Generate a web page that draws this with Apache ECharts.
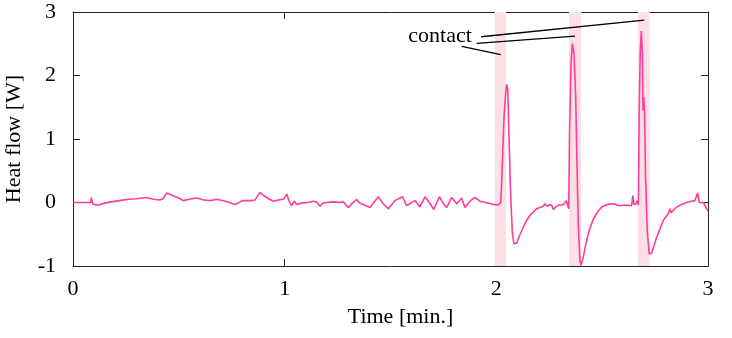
<!DOCTYPE html>
<html>
<head>
<meta charset="utf-8">
<script src="https://cdn.jsdelivr.net/npm/echarts@6/dist/echarts.min.js"></script>
<style>
  html, body { margin: 0; padding: 0; background: #fff; }
  #chart { width: 732px; height: 338px; }
</style>
</head>
<body>
<div id="chart"></div>
<script>
// time [min.] and heat flow [W]
const timeMin = [
  0, 0.085, 0.086, 0.095, 0.1, 0.12, 0.15, 0.18, 0.22, 0.26, 0.3, 0.348, 0.38, 0.41, 0.425, 0.443,
  0.47, 0.5, 0.521, 0.55, 0.584, 0.62, 0.65, 0.679, 0.72, 0.765, 0.79, 0.805, 0.84, 0.86, 0.883,
  0.9, 0.925, 0.946, 0.97, 0.994, 1.01, 1.02, 1.033, 1.045, 1.057, 1.08, 1.11, 1.135, 1.15, 1.167,
  1.18, 1.198, 1.23, 1.26, 1.277, 1.3, 1.32, 1.34, 1.355, 1.371, 1.403, 1.442, 1.466, 1.49, 1.521,
  1.557, 1.576, 1.6, 1.616, 1.639, 1.663, 1.687, 1.705, 1.731, 1.753, 1.765, 1.789, 1.813, 1.836,
  1.852, 1.875, 1.899, 1.923, 1.95, 1.986, 2.009, 2.021, 2.026, 2.03, 2.037, 2.045, 2.049, 2.054,
  2.06, 2.068, 2.076, 2.083, 2.096, 2.11, 2.127, 2.14, 2.159, 2.19, 2.222, 2.23, 2.24, 2.25, 2.261,
  2.269, 2.28, 2.293, 2.316, 2.33, 2.337, 2.342, 2.346, 2.353, 2.359, 2.367, 2.375, 2.381, 2.387,
  2.395, 2.4, 2.411, 2.42, 2.434, 2.458, 2.48, 2.498, 2.525, 2.553, 2.584, 2.61, 2.639, 2.645, 2.65,
  2.66, 2.666, 2.671, 2.675, 2.68, 2.685, 2.69, 2.693, 2.696, 2.7, 2.705, 2.713, 2.722, 2.734, 2.745,
  2.757, 2.775, 2.789, 2.812, 2.82, 2.826, 2.852, 2.875, 2.899, 2.92, 2.938, 2.951, 2.959, 2.978,
  2.994, 3.0
];
const heatFlow = [
  0, 0, 0.08, -0.03, -0.06, -0.04, -0.01, 0.01, 0.03, 0.05, 0.06, 0.08, 0.05, 0.04, 0.06, 0.15,
  0.11, 0.07, 0.03, 0.05, 0.07, 0.04, 0.03, 0.05, 0.02, -0.03, 0.01, 0.03, 0.03, 0.04, 0.16,
  0.11, 0.06, 0.02, 0.04, 0.05, 0.13, 0.03, -0.05, 0.02, -0.03, -0.01, 0, 0.02, 0.01, -0.06,
  -0.01, 0, 0.01, 0, 0.01, -0.08, -0.01, 0.05, -0.01, -0.03, -0.08, 0.09, -0.02, -0.1, 0.03,
  0.09, -0.05, 0, 0.03, -0.07, 0.09, -0.02, -0.11, 0.09, -0.03, -0.08, 0.08, -0.02, 0.07,
  -0.08, 0.02, 0.08, 0.02, 0, -0.03, -0.04, 0, 0.4, 0.77, 1.39, 1.75, 1.86, 1.79,
  1.03, 0.08, -0.49, -0.65, -0.64, -0.52, -0.39, -0.3, -0.2, -0.1, -0.06, -0.02, -0.06, -0.04, -0.035,
  -0.11, -0.07, -0.04, -0.04, 0.03, 0.06, -0.1, 1.13, 2.18, 2.5, 2.34, 1.66, 0.61, -0.33,
  -0.91, -0.99, -0.86, -0.7, -0.49, -0.26, -0.14, -0.07, -0.03, -0.02, -0.05, -0.04, -0.05, 0.11, -0.03,
  -0.02, 0.03, -0.04, 1.45, 2.39, 2.7, 2.34, 1.45, 1.66, 1.45, 0.4, -0.44, -0.81, -0.79, -0.68,
  -0.55, -0.4, -0.28, -0.18, -0.1, -0.16, -0.07, -0.03, 0, 0.02, 0.03, 0.15, 0, 0,
  -0.1, -0.13
];

// shaded contact intervals
const contactStart = [1.993, 2.343, 2.669];
const contactEnd = [2.046, 2.401, 2.724];

// "contact" label and its pointer lines (data units)
const labelText = 'contact';
const labelPos = [1.734, 2.626];
const pointerFrom = [[1.836, 2.458], [1.907, 2.505], [1.928, 2.61]];
const pointerTo = [[2.021, 2.327], [2.372, 2.621], [2.699, 2.873]];

const xTicks = { min: 0, max: 3, interval: 1 };
const yTicks = { min: -1, max: 3, interval: 1 };

const serif = '"Liberation Serif", "DejaVu Serif", serif';
const frame = '#222';

const chart = echarts.init(document.getElementById('chart'));

const lineData = timeMin.map((t, i) => [t, heatFlow[i]]);

const bands = contactStart.map((s, i) => [{ xAxis: s }, { xAxis: contactEnd[i] }]);

const pointers = pointerFrom.map((p, i) => [{ coord: p }, { coord: pointerTo[i] }]);

const axisX = (pos, showLabel) => ({
  type: 'value',
  position: pos,
  min: xTicks.min,
  max: xTicks.max,
  interval: xTicks.interval,
  axisLine: { show: true, onZero: false, lineStyle: { color: frame, width: 1 } },
  axisTick: { show: true, inside: true, length: 7, lineStyle: { color: frame } },
  axisLabel: { show: showLabel, color: '#000', fontFamily: serif, fontSize: 22, margin: 12 },
  splitLine: { show: false }
});

const axisY = (pos, showLabel) => ({
  type: 'value',
  position: pos,
  min: yTicks.min,
  max: yTicks.max,
  interval: yTicks.interval,
  axisLine: { show: true, onZero: false, lineStyle: { color: frame, width: 1 } },
  axisTick: { show: true, inside: true, length: 7, lineStyle: { color: frame } },
  axisLabel: { show: showLabel, color: '#000', fontFamily: serif, fontSize: 22, margin: 17 },
  splitLine: { show: false }
});

const bottomX = axisX('bottom', true);
bottomX.name = 'Time [min.]';
bottomX.nameLocation = 'middle';
bottomX.nameGap = 40;
bottomX.nameTextStyle = { color: '#000', fontFamily: serif, fontSize: 22, padding: [0, 0, 0, 20] };

const leftY = axisY('left', true);
leftY.name = 'Heat flow [W]';
leftY.nameLocation = 'middle';
leftY.nameGap = 48;
leftY.nameTextStyle = { color: '#000', fontFamily: serif, fontSize: 22 };

chart.setOption({
  animation: false,
  backgroundColor: '#fff',
  grid: { left: 73, right: 24, top: 12, bottom: 72, outerBoundsMode: 'none' },
  xAxis: [bottomX, axisX('top', false)],
  yAxis: [leftY, axisY('right', false)],
  series: [
    {
      name: 'Heat flow',
      type: 'line',
      data: lineData,
      showSymbol: false,
      symbol: 'none',
      lineStyle: { color: '#ff3d9a', width: 1.6 },
      z: 3,
      markArea: {
        silent: true,
        itemStyle: { color: '#fde0e5' },
        data: bands
      }
    },
    {
      name: 'annotation',
      type: 'line',
      data: [],
      z: 4,
      markLine: {
        silent: true,
        symbol: 'none',
        label: { show: false },
        lineStyle: { color: '#000', width: 1.3, type: 'solid' },
        data: pointers
      },
      markPoint: {
        silent: true,
        symbolSize: 0,
        label: {
          show: true,
          position: 'inside',
          formatter: labelText,
          color: '#000',
          fontFamily: serif,
          fontSize: 22
        },
        data: [{ coord: labelPos }]
      }
    }
  ]
});
</script>
</body>
</html>
